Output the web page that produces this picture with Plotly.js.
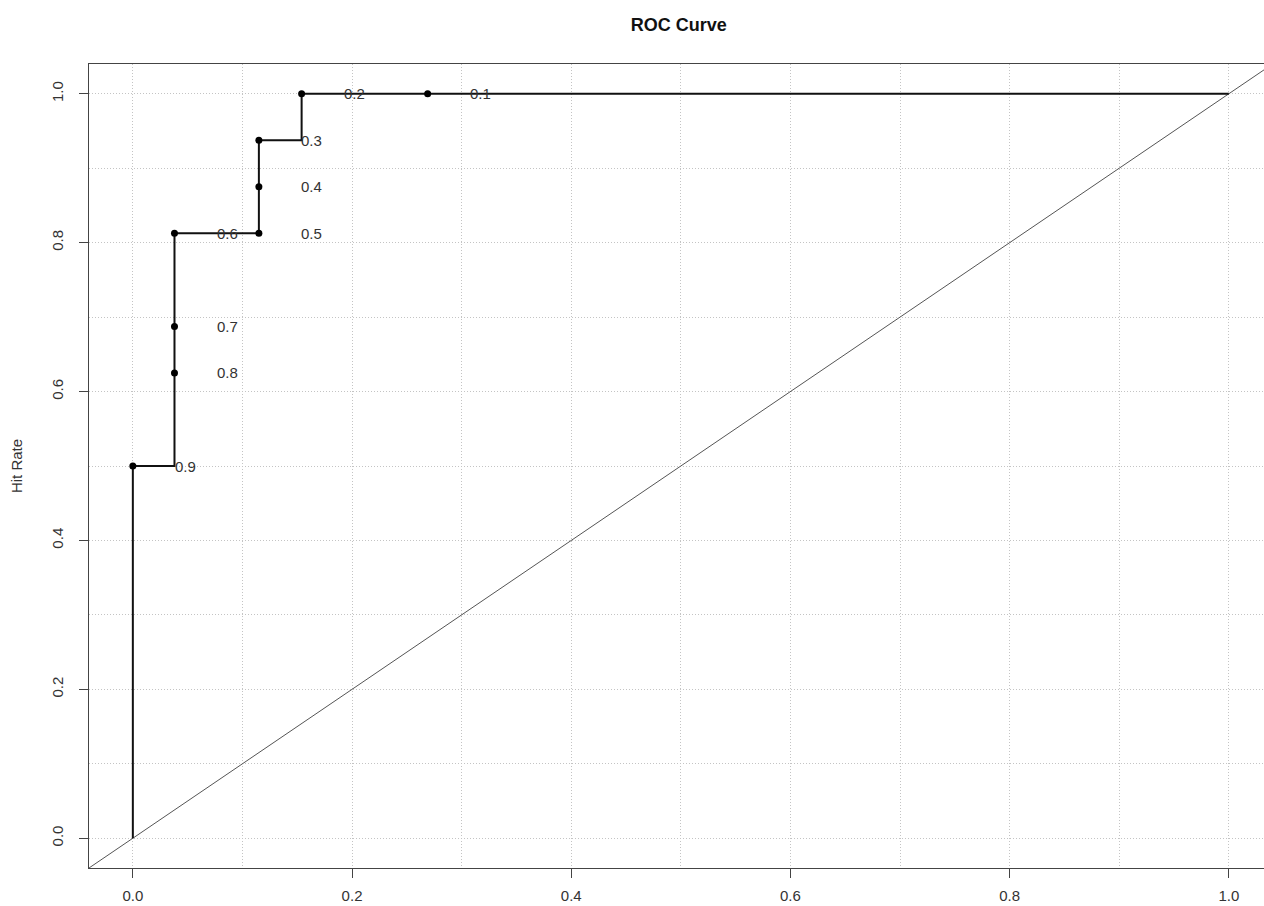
<!DOCTYPE html>
<html>
<head>
<meta charset="utf-8">
<script src="https://cdn.plot.ly/plotly-3.0.1.min.js"></script>
<style>
  html, body { margin: 0; padding: 0; background: #ffffff; overflow: hidden; }
  #chart { width: 1264px; height: 906px; }
</style>
</head>
<body>
<div id="chart"></div>
<script>
// ROC curve vertices (false alarm rate, hit rate)
const curveX = [0, 0, 0.038, 0.115, 0.154, 1];
const curveY = [0, 0.5, 0.8125, 0.9375, 1, 1];

// Threshold points and labels
const thresholds = ['0.1', '0.2', '0.3', '0.4', '0.5', '0.6', '0.7', '0.8', '0.9'];
const pointX = [0.269, 0.154, 0.115, 0.115, 0.115, 0.038, 0.038, 0.038, 0];
const pointY = [1, 1, 0.9375, 0.875, 0.8125, 0.8125, 0.6875, 0.625, 0.5];

// Axis ranges (R-style 4% padding; right side cropped in the reference)
const xRange = [-0.04, 1.0321];
const yRange = [-0.04, 1.04];
const tickVals = [0, 0.2, 0.4, 0.6, 0.8, 1.0];
const tickText = ['0.0', '0.2', '0.4', '0.6', '0.8', '1.0'];

const FONT = 'Liberation Sans, Arial, sans-serif';
const diagLo = Math.min(xRange[0], yRange[0]);
const diagHi = Math.max(xRange[1], yRange[1]);

const traces = [
  {
    x: [diagLo, diagHi], y: [diagLo, diagHi],
    mode: 'lines', type: 'scatter',
    line: {color: '#555555', width: 1},
    hoverinfo: 'skip', showlegend: false
  },
  {
    x: curveX, y: curveY,
    mode: 'lines', type: 'scatter',
    line: {color: '#111111', width: 2, shape: 'hv'},
    showlegend: false
  },
  {
    x: pointX, y: pointY,
    mode: 'markers', type: 'scatter',
    marker: {color: '#000000', size: 7},
    text: thresholds,
    showlegend: false
  }
];

const annotations = thresholds.map((t, i) => ({
  x: pointX[i], y: pointY[i], xref: 'x', yref: 'y',
  text: t, showarrow: false, xanchor: 'center', yanchor: 'middle',
  xshift: 53, font: {family: FONT, size: 15, color: '#333333'}
}));

const gridCol = '#c4c4c4';
const gridDash = '1px,2px';
const axisCommon = {
  showline: true, linecolor: '#444444', linewidth: 1,
  ticks: 'outside', ticklen: 9, tickcolor: '#444444', tickwidth: 1,
  tickmode: 'array',
  showgrid: true, gridcolor: gridCol, gridwidth: 1, griddash: gridDash,
  zeroline: false,
  tickfont: {family: FONT, size: 15, color: '#333333'},
  minor: {dtick: 0.1, tick0: 0, showgrid: true, gridcolor: gridCol, gridwidth: 1, griddash: gridDash, ticks: ''}
};

const layout = {
  width: 1264, height: 906,
  margin: {l: 89, r: 0, t: 64, b: 38},
  paper_bgcolor: '#ffffff', plot_bgcolor: '#ffffff',
  title: {
    text: '<b>ROC Curve</b>',
    font: {family: FONT, size: 18, color: '#111111'},
    xref: 'paper', x: 0.502, xanchor: 'center',
    yref: 'container', y: 1 - 25 / 906, yanchor: 'middle'
  },
  xaxis: Object.assign({}, axisCommon, {
    range: xRange, tickvals: tickVals, ticktext: tickText,
    mirror: true, ticklabelstandoff: 5
  }),
  yaxis: Object.assign({}, axisCommon, {
    range: yRange, tickvals: tickVals, ticktext: tickText,
    tickangle: -90, ticklabelstandoff: 10,
    title: {text: 'Hit Rate', font: {family: FONT, size: 15, color: '#333333'}, standoff: 22}
  }),
  annotations: annotations,
  showlegend: false,
  hovermode: 'closest'
};

Plotly.newPlot('chart', traces, layout, {displayModeBar: false, staticPlot: true});
</script>
</body>
</html>
